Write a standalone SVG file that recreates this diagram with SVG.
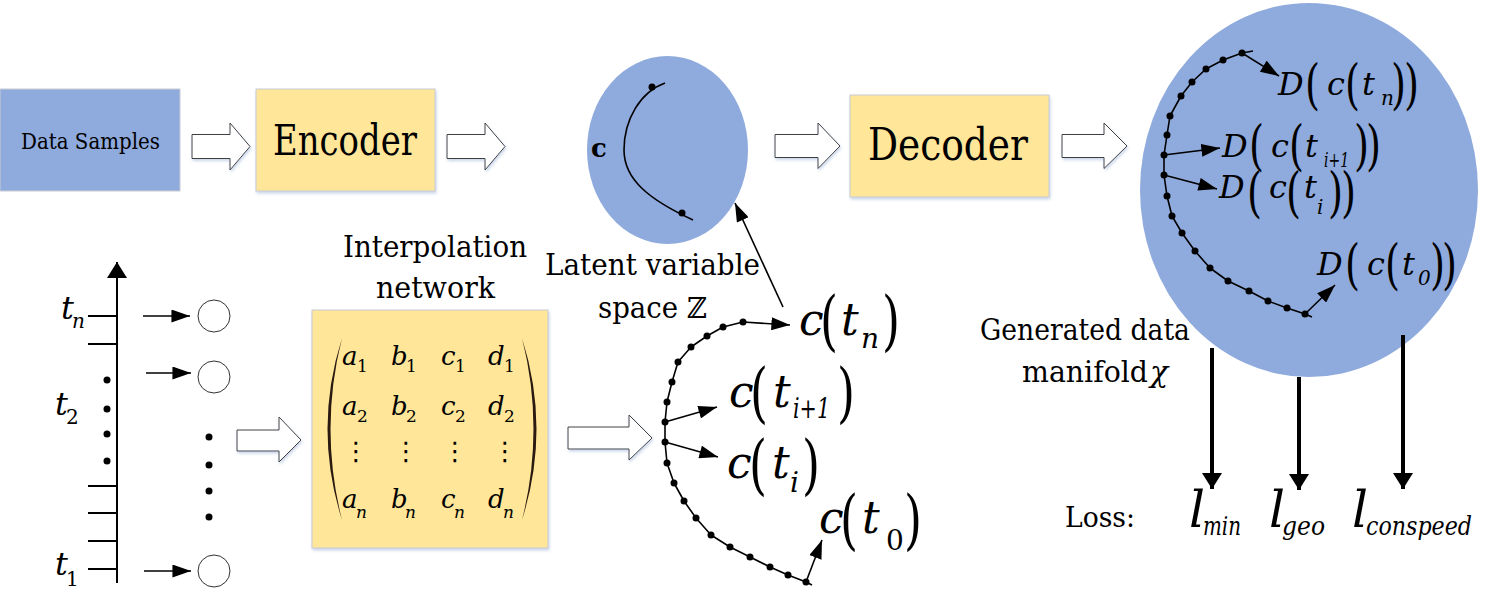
<svg xmlns="http://www.w3.org/2000/svg" width="1496" height="597" viewBox="0 0 1496 597" font-family="DejaVu Serif, serif">
<style>
text{font-family:'DejaVu Serif',serif;fill:#000}
.it{font-style:italic}
.box{stroke:#c8ccd4;stroke-width:1}
.blue{fill:#8faadc}
.yel{fill:#ffe699}
.harrow{fill:#fff;stroke:#404040;stroke-width:1}
.ln{stroke:#000;stroke-width:1.6;fill:none}
.curve{stroke:#000;stroke-width:1.6;fill:none;stroke-linejoin:round}
.dot{fill:#000}
.tick{stroke:#000;stroke-width:2}
.cir{fill:#fff;stroke:#333;stroke-width:1}
.loss{stroke:#000;stroke-width:4}
.par{font-style:normal}
.p1{font-style:normal;font-size:55px}
.p2{font-style:normal;font-size:66px}
.ell{font-family:'DejaVu Sans',sans-serif;font-style:normal}
.mp{fill:#2a1a10}
</style>
<defs>
<filter id="sh" x="-10%" y="-10%" width="130%" height="140%">
<feDropShadow dx="1" dy="2" stdDeviation="1.5" flood-color="#9fb4d8" flood-opacity="0.55"/>
</filter>
<marker id="ah" viewBox="0 0 20 14" refX="20" refY="7" markerWidth="19" markerHeight="13" markerUnits="userSpaceOnUse" orient="auto">
<path d="M0,0 L20,7 L0,14 z" fill="#000"/>
</marker>
<marker id="ahl" viewBox="0 0 16 20" refX="16" refY="10" markerWidth="16" markerHeight="20" markerUnits="userSpaceOnUse" orient="auto">
<path d="M0,0 L16,10 L0,20 z" fill="#000"/>
</marker>
</defs>

<g id="data-samples">
<rect class="box blue" x="0" y="89" width="180" height="102"/>
<text x="21" y="149" font-size="22" textLength="139" lengthAdjust="spacingAndGlyphs">Data Samples</text>
</g>
<g id="encoder">
<rect class="box yel" x="256" y="89" width="179" height="102" filter="url(#sh)"/>
<text x="273" y="155" font-size="42" textLength="144" lengthAdjust="spacingAndGlyphs">Encoder</text>
</g>
<g id="latent-space">
<ellipse class="blue" cx="667.5" cy="150" rx="80.5" ry="94"/>
<text x="591" y="157" font-size="26" font-weight="bold">c</text>
<path class="curve" d="M665,83 C640,92 624,120 624,150 C624,180 650,200 693,220"/>
<circle class="dot" cx="652" cy="87" r="3.5"/>
<circle class="dot" cx="682" cy="213" r="3.5"/>
</g>
<g id="latent-label">
<text x="545" y="275" font-size="29" textLength="215" lengthAdjust="spacingAndGlyphs">Latent variable</text>
<text x="598" y="318" font-size="29" textLength="109" lengthAdjust="spacingAndGlyphs">space ℤ</text>
</g>
<g id="decoder">
<rect class="box yel" x="850" y="95" width="199" height="102" filter="url(#sh)"/>
<text x="868" y="160" font-size="44" textLength="160" lengthAdjust="spacingAndGlyphs">Decoder</text>
</g>
<g id="generated-manifold">
<ellipse class="blue" cx="1309" cy="190" rx="169" ry="187"/>
<polyline class="curve" points="1253,51 1242,53 1223,60 1206,69 1192,82 1181,96 1170,116 1167,135 1164,155 1164,175 1167,196 1172,216 1182,233 1195,251 1210,268 1228,281 1249,291 1268,301 1287,308 1305,314 1312,317"/>
<g class="dot">
<circle cx="1242" cy="53" r="3.5"/><circle cx="1223" cy="60" r="3.5"/><circle cx="1206" cy="69" r="3.5"/><circle cx="1192" cy="82" r="3.5"/><circle cx="1181" cy="96" r="3.5"/><circle cx="1170" cy="116" r="3.5"/><circle cx="1167" cy="135" r="3.5"/><circle cx="1164" cy="155" r="3.5"/><circle cx="1164" cy="175" r="3.5"/><circle cx="1167" cy="196" r="3.5"/><circle cx="1172" cy="216" r="3.5"/><circle cx="1182" cy="233" r="3.5"/><circle cx="1195" cy="251" r="3.5"/><circle cx="1210" cy="268" r="3.5"/><circle cx="1228" cy="281" r="3.5"/><circle cx="1249" cy="291" r="3.5"/><circle cx="1268" cy="301" r="3.5"/><circle cx="1287" cy="308" r="3.5"/><circle cx="1305" cy="314" r="3.5"/>
</g>
<g id="label-D-tn">
<text class="it" font-size="32"><tspan x="1278" y="95">D</tspan><tspan x="1327" y="95">c</tspan><tspan x="1362" y="95">t</tspan></text>
<text class="it" x="1381" y="105" font-size="20">n</text>
<text class="p1" transform="translate(1305,103) scale(0.7,1)">(</text>
<text class="p1" transform="translate(1345,103) scale(0.7,1)">(</text>
<text class="p1" transform="translate(1391,103) scale(0.7,1)">)</text>
<text class="p1" transform="translate(1404,103) scale(0.7,1)">)</text>
</g>
<g id="label-D-ti1">
<text class="it" font-size="32"><tspan x="1222" y="157">D</tspan><tspan x="1271" y="157">c</tspan><tspan x="1305" y="157">t</tspan></text>
<text class="it" x="1324" y="167" font-size="20" textLength="25" lengthAdjust="spacingAndGlyphs">i+1</text>
<text class="p1" transform="translate(1249,164) scale(0.7,1)">(</text>
<text class="p1" transform="translate(1289,164) scale(0.7,1)">(</text>
<text class="p1" transform="translate(1354,164) scale(0.7,1)">)</text>
<text class="p1" transform="translate(1366,164) scale(0.7,1)">)</text>
</g>
<g id="label-D-ti">
<text class="it" font-size="32"><tspan x="1219" y="198">D</tspan><tspan x="1269" y="198">c</tspan><tspan x="1304" y="198">t</tspan></text>
<text class="it" x="1317" y="214" font-size="20">i</text>
<text class="p1" transform="translate(1247,211) scale(0.7,1)">(</text>
<text class="p1" transform="translate(1286,211) scale(0.7,1)">(</text>
<text class="p1" transform="translate(1328,211) scale(0.7,1)">)</text>
<text class="p1" transform="translate(1341,211) scale(0.7,1)">)</text>
</g>
<g id="label-D-t0">
<text class="it" font-size="32"><tspan x="1317" y="275">D</tspan><tspan x="1367" y="275">c</tspan><tspan x="1402" y="275">t</tspan></text>
<text class="it" x="1418" y="285" font-size="20">0</text>
<text class="p1" transform="translate(1345,283) scale(0.7,1)">(</text>
<text class="p1" transform="translate(1385,283) scale(0.7,1)">(</text>
<text class="p1" transform="translate(1430,283) scale(0.7,1)">)</text>
<text class="p1" transform="translate(1442,283) scale(0.7,1)">)</text>
</g>
</g>
<g id="manifold-label">
<text x="980" y="340" font-size="29" textLength="210" lengthAdjust="spacingAndGlyphs">Generated data</text>
<text x="1022" y="382" font-size="29" textLength="126" lengthAdjust="spacingAndGlyphs">manifold</text>
<text class="it" x="1150" y="382" font-size="30">χ</text>
</g>
<g id="loss">
<text x="1065" y="527" font-size="28" textLength="70" lengthAdjust="spacingAndGlyphs">Loss:</text>
<text class="it" x="1189" y="527" font-size="50">l</text>
<text class="it" x="1203" y="535" font-size="26" textLength="38" lengthAdjust="spacingAndGlyphs">min</text>
<text class="it" x="1269" y="527" font-size="50">l</text>
<text class="it" x="1282" y="535" font-size="26" textLength="43" lengthAdjust="spacingAndGlyphs">geo</text>
<text class="it" x="1352" y="527" font-size="50">l</text>
<text class="it" x="1366" y="535" font-size="26" textLength="106" lengthAdjust="spacingAndGlyphs">conspeed</text>
</g>

<g id="time-axis">
<line class="tick" x1="117" y1="583" x2="117" y2="262" marker-end="url(#ahl)"/>
<line class="tick" x1="88" y1="316" x2="117" y2="316"/>
<line class="tick" x1="88" y1="344" x2="117" y2="344"/>
<line class="tick" x1="88" y1="486" x2="117" y2="486"/>
<line class="tick" x1="88" y1="513" x2="117" y2="513"/>
<line class="tick" x1="88" y1="541" x2="117" y2="541"/>
<line class="tick" x1="88" y1="569" x2="117" y2="569"/>
<g class="dot"><circle cx="107" cy="380" r="3.5"/><circle cx="107" cy="409" r="3.5"/><circle cx="107" cy="434" r="3.5"/><circle cx="107" cy="461" r="3.5"/></g>
<text class="it" x="61" y="319" font-size="32">t</text>
<text class="it" x="72" y="328" font-size="20">n</text>
<text class="it" x="55" y="415" font-size="32">t</text>
<text x="66" y="424" font-size="20">2</text>
<text class="it" x="55" y="575" font-size="32">t</text>
<text x="66" y="586" font-size="20">1</text>
</g>
<g id="input-nodes">
<circle class="cir" cx="214" cy="316" r="16"/>
<circle class="cir" cx="214" cy="377" r="16"/>
<circle class="cir" cx="214" cy="571" r="16"/>
<g class="dot"><circle cx="209" cy="437" r="3.5"/><circle cx="209" cy="465" r="3.5"/><circle cx="209" cy="491" r="3.5"/><circle cx="209" cy="517" r="3.5"/></g>
</g>
<g id="interpolation-network">
<text x="343" y="257" font-size="29" textLength="184" lengthAdjust="spacingAndGlyphs">Interpolation</text>
<text x="376" y="298" font-size="29" textLength="119" lengthAdjust="spacingAndGlyphs">network</text>
<rect class="box yel" x="312" y="310" width="236" height="238" filter="url(#sh)"/>
<path class="mp" d="M342,338 Q313,429 342,520 Q319,429 342,338 z"/>
<path class="mp" d="M522,338 Q551,429 522,520 Q545,429 522,338 z"/>
<g class="it" font-size="26">
<text x="342" y="365">a</text><text class="par" x="357" y="372" font-size="17">1</text>
<text x="391" y="365">b</text><text class="par" x="406" y="372" font-size="17">1</text>
<text x="441" y="365">c</text><text class="par" x="455" y="372" font-size="17">1</text>
<text x="488" y="365">d</text><text class="par" x="504" y="372" font-size="17">1</text>
<text x="342" y="415">a</text><text class="par" x="357" y="422" font-size="17">2</text>
<text x="391" y="415">b</text><text class="par" x="406" y="422" font-size="17">2</text>
<text x="441" y="415">c</text><text class="par" x="455" y="422" font-size="17">2</text>
<text x="488" y="415">d</text><text class="par" x="504" y="422" font-size="17">2</text>
<text x="342" y="508">a</text><text x="356" y="518" font-size="17">n</text>
<text x="391" y="508">b</text><text x="405" y="518" font-size="17">n</text>
<text x="441" y="508">c</text><text x="454" y="518" font-size="17">n</text>
<text x="488" y="508">d</text><text x="503" y="518" font-size="17">n</text>
</g>
<g font-size="26" text-anchor="middle">
<text class="ell" x="356" y="460">⋮</text>
<text class="ell" x="406" y="460">⋮</text>
<text class="ell" x="455" y="460">⋮</text>
<text class="ell" x="505" y="460">⋮</text>
</g>
</g>
<g id="latent-curve">
<polyline class="curve" points="743,322 723,327 707,336 691,347 678,362 672,382 667,402 665,422 665,442 667,463 674,483 684,501 696,518 711,535 730,547 750,557 770,567 788,575 806,582 812,585"/>
<g class="dot">
<circle cx="743" cy="322" r="3.5"/><circle cx="723" cy="327" r="3.5"/><circle cx="707" cy="336" r="3.5"/><circle cx="691" cy="347" r="3.5"/><circle cx="678" cy="362" r="3.5"/><circle cx="672" cy="382" r="3.5"/><circle cx="667" cy="402" r="3.5"/><circle cx="665" cy="422" r="3.5"/><circle cx="665" cy="442" r="3.5"/><circle cx="667" cy="463" r="3.5"/><circle cx="674" cy="483" r="3.5"/><circle cx="684" cy="501" r="3.5"/><circle cx="696" cy="518" r="3.5"/><circle cx="711" cy="535" r="3.5"/><circle cx="730" cy="547" r="3.5"/><circle cx="750" cy="557" r="3.5"/><circle cx="770" cy="567" r="3.5"/><circle cx="788" cy="575" r="3.5"/><circle cx="806" cy="582" r="3.5"/>
</g>
<g id="label-c-tn">
<text class="it" font-size="44"><tspan x="799" y="335">c</tspan><tspan x="841" y="335">t</tspan></text>
<text class="it" x="861" y="348" font-size="28">n</text>
<text class="p2" transform="translate(820,343) scale(0.7,1)">(</text>
<text class="p2" transform="translate(882,343) scale(0.7,1)">)</text>
</g>
<g id="label-c-ti1">
<text class="it" font-size="44"><tspan x="729" y="407">c</tspan><tspan x="773" y="407">t</tspan></text>
<text class="it" x="793" y="418" font-size="28" textLength="37" lengthAdjust="spacingAndGlyphs">i+1</text>
<text class="p2" transform="translate(750,415) scale(0.7,1)">(</text>
<text class="p2" transform="translate(837,415) scale(0.7,1)">)</text>
</g>
<g id="label-c-ti">
<text class="it" font-size="44"><tspan x="727" y="478">c</tspan><tspan x="772" y="478">t</tspan></text>
<text class="it" x="790" y="492" font-size="28">i</text>
<text class="p2" transform="translate(749,487) scale(0.7,1)">(</text>
<text class="p2" transform="translate(802,487) scale(0.7,1)">)</text>
</g>
<g id="label-c-t0">
<text class="it" font-size="44"><tspan x="819" y="533">c</tspan><tspan x="862" y="533">t</tspan></text>
<text x="886" y="550" font-size="28">0</text>
<text class="p2" transform="translate(840,542) scale(0.7,1)">(</text>
<text class="p2" transform="translate(904,542) scale(0.7,1)">)</text>
</g>
</g>

<g id="connectors">
<polygon class="harrow" filter="url(#sh)" points="192,134.5 230,134.5 230,123 250,146.5 230,170 230,158.5 192,158.5"/>
<polygon class="harrow" filter="url(#sh)" points="447,134.5 485,134.5 485,123 505,146.5 485,170 485,158.5 447,158.5"/>
<polygon class="harrow" filter="url(#sh)" points="775,134.5 818,134.5 818,123 840,146 818,168.5 818,157.5 775,157.5"/>
<polygon class="harrow" filter="url(#sh)" points="1062,134.5 1104,134.5 1104,123 1127,146 1104,168.5 1104,157.5 1062,157.5"/>
<polygon class="harrow" filter="url(#sh)" points="237,430 279,430 279,417 301,440 279,462 279,451 237,451"/>
<polygon class="harrow" filter="url(#sh)" points="568,427 629,427 629,415 652,438 629,460 629,449 568,449"/>
<line class="ln" x1="143" y1="316" x2="190" y2="316" marker-end="url(#ah)"/>
<line class="ln" x1="146" y1="373" x2="191" y2="373" marker-end="url(#ah)"/>
<line class="ln" x1="144" y1="571" x2="191" y2="571" marker-end="url(#ah)"/>
<line class="ln" x1="783" y1="307" x2="735" y2="203" marker-end="url(#ah)"/>
<line class="ln" x1="743" y1="322" x2="790" y2="325" marker-end="url(#ah)"/>
<line class="ln" x1="665" y1="422" x2="717" y2="407" marker-end="url(#ah)"/>
<line class="ln" x1="665" y1="442" x2="718" y2="457" marker-end="url(#ah)"/>
<line class="ln" x1="806" y1="582" x2="822" y2="540" marker-end="url(#ah)"/>
<line class="ln" x1="1242" y1="53" x2="1279" y2="76" marker-end="url(#ah)"/>
<line class="ln" x1="1164" y1="155" x2="1220" y2="148" marker-end="url(#ah)"/>
<line class="ln" x1="1164" y1="175" x2="1217" y2="189" marker-end="url(#ah)"/>
<line class="ln" x1="1305" y1="314" x2="1335" y2="285" marker-end="url(#ah)"/>
<line class="loss" x1="1212" y1="348" x2="1212" y2="489" marker-end="url(#ahl)"/>
<line class="loss" x1="1299" y1="377" x2="1299" y2="490" marker-end="url(#ahl)"/>
<line class="loss" x1="1403" y1="335" x2="1403" y2="489" marker-end="url(#ahl)"/>
</g>
</svg>
